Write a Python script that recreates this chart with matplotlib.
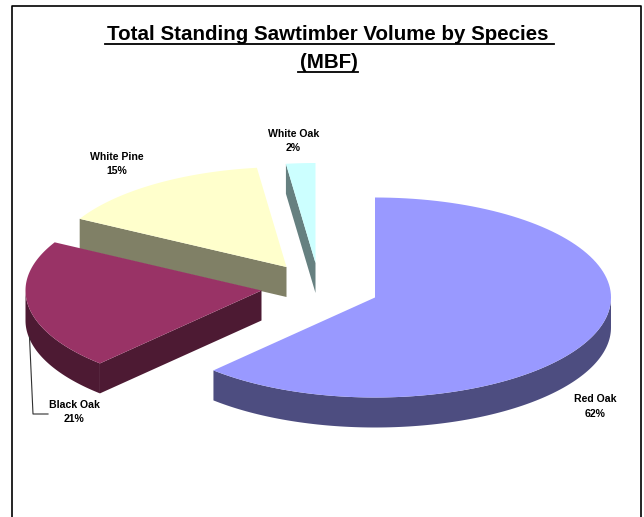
import matplotlib.pyplot as plt
import numpy as np

plt.rcParams["font.family"] = ["Liberation Sans", "DejaVu Sans"]

species = ["Red Oak", "Black Oak", "White Pine", "White Oak"]
shares = [62, 21, 15, 2]
top_colors = ["#9999FF", "#993366", "#FFFFCC", "#CCFFFF"]
side_colors = ["#4D4D80", "#4D1A33", "#808066", "#668080"]

# exploded slice apexes, in pixels
apexes = [(375, 297.5), (261.5, 290.5), (286.5, 267), (315.5, 263)]
label_pos = [(595, 406.5), (74, 412), (117, 164), (293.5, 141)]

RX = 236
RY = 100
DEPTH = 30


def rim(apex, start, stop, n=120):
    """Points along the elliptical rim between two clockwise angles from 12 o'clock."""
    theta = np.radians(np.linspace(start, stop, n))
    return apex[0] + RX * np.sin(theta), apex[1] - RY * np.cos(theta)


def draw_slice(ax, apex, start, stop, top, side):
    # outer wall, only where the rim faces the viewer
    low = max(start, 90)
    high = min(stop, 270)
    if low < high:
        x, y = rim(apex, low, high)
        ax.fill(np.r_[x, x[::-1]], np.r_[y, y[::-1] + DEPTH], color=side, lw=0)

    # cut face along the leading edge
    if np.sin(np.radians(start)) < -1e-6:
        ex, ey = rim(apex, start, start, 1)
        ax.fill([apex[0], ex[0], ex[0], apex[0]],
                [apex[1], ey[0], ey[0] + DEPTH, apex[1] + DEPTH],
                color=side, lw=0)

    x, y = rim(apex, start, stop)
    ax.fill(np.r_[apex[0], x], np.r_[apex[1], y], color=top, lw=0)


def main():
    fig = plt.figure(figsize=(6.44, 5.17), dpi=100, facecolor="white")
    ax = fig.add_axes([0, 0, 1, 1])
    ax.set_xlim(0, 644)
    ax.set_ylim(517, 0)
    ax.axis("off")

    # open-bottomed chart frame
    ax.plot([12.5, 12.5, 641, 641], [517, 5.5, 5.5, 517], color="black", lw=1.2)

    edges = np.r_[0, np.cumsum(shares)] * 3.6
    for i in reversed(range(len(shares))):
        draw_slice(ax, apexes[i], edges[i], edges[i + 1], top_colors[i], side_colors[i])

    # leader line for the Black Oak label
    ax.plot([29.5, 33, 48], [337, 414, 414], color="#303030", lw=0.8)

    for name, share, (x, y) in zip(species, shares, label_pos):
        ax.text(x, y, f"{name}\n{share}%", ha="center", va="center",
                fontsize=7.6, fontweight="bold", color="black", linespacing=1.62)

    ax.text(328, 34.5, "Total Standing Sawtimber Volume by Species", ha="center",
            va="center", fontsize=14.8, fontweight="bold", color="black")
    ax.text(328.5, 62.5, "(MBF)", ha="center", va="center",
            fontsize=14.8, fontweight="bold", color="black")
    ax.plot([105, 554], [43.5, 43.5], color="black", lw=1.3)
    ax.plot([298, 358], [71.5, 71.5], color="black", lw=1.3)

    fig.savefig("out.png", dpi=100)
    plt.close(fig)


if __name__ == "__main__":
    main()
